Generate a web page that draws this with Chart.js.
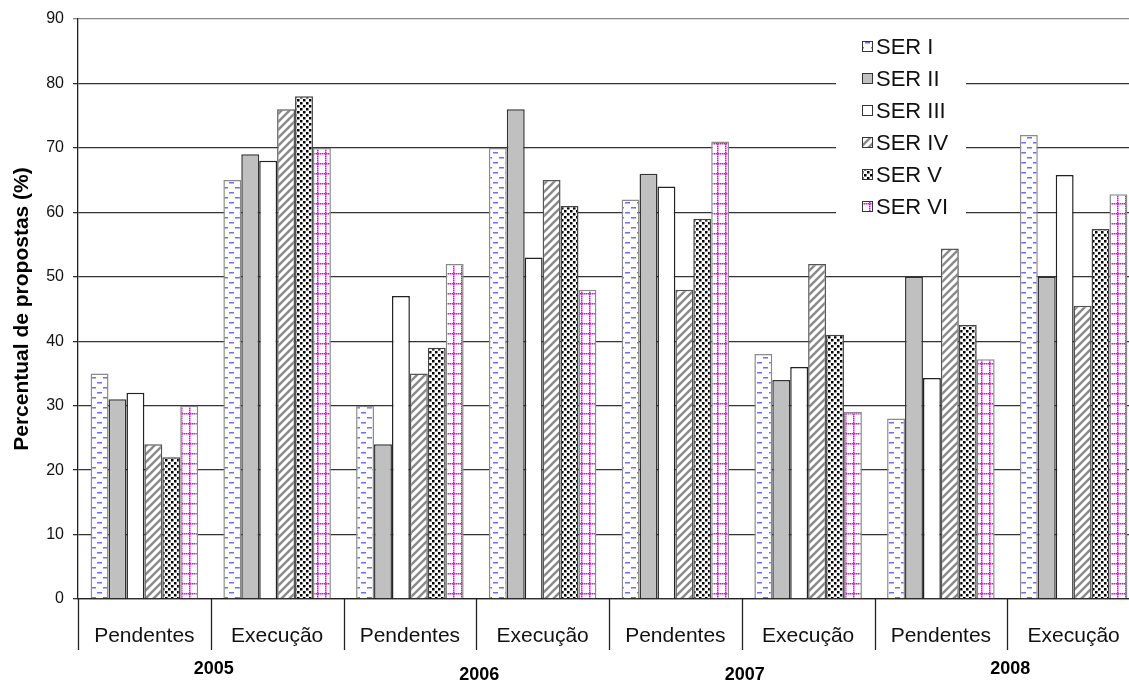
<!DOCTYPE html>
<html>
<head>
<meta charset="utf-8">
<script src="https://cdn.jsdelivr.net/npm/chart.js@4/dist/chart.umd.min.js"></script>
<style>
  html, body { margin: 0; padding: 0; background: #fff; overflow: hidden; }
  #wrap { width: 1140px; height: 681px; }
</style>
</head>
<body>
<div id="wrap"><canvas id="myChart"></canvas></div>
<script>
// data
const categories = ['Pendentes', 'Execução', 'Pendentes', 'Execução', 'Pendentes', 'Execução', 'Pendentes', 'Execução'];
const years = ['2005', '2006', '2007', '2008'];
const seriesNames = ['SER I', 'SER II', 'SER III', 'SER IV', 'SER V', 'SER VI'];
const serI   = [35, 65, 30, 70, 62, 38, 28, 72];
const serII  = [31, 69, 24, 76, 66, 34, 50, 50];
const serIII = [32, 68, 47, 53, 64, 36, 34.3, 65.8];
const serIV  = [24, 76, 35, 65, 48, 52, 54.4, 45.5];
const serV   = [22, 78, 39, 61, 59, 41, 42.5, 57.4];
const serVI  = [30, 70, 52, 48, 71, 29, 37.2, 62.8];
const yTicks = [0, 10, 20, 30, 40, 50, 60, 70, 80, 90];

const FONT = '"Liberation Sans", Arial, sans-serif';

// fill patterns
function makePattern(w, h, draw) {
  const c = document.createElement('canvas');
  c.width = w; c.height = h;
  const g = c.getContext('2d');
  g.fillStyle = '#fff';
  g.fillRect(0, 0, w, h);
  draw(g);
  return g.createPattern(c, 'repeat');
}
const pDash = makePattern(12, 10, g => {
  g.fillStyle = '#6f6ff0';
  g.fillRect(1, 2, 5, 1.5);
  g.fillRect(7, 7, 5, 1.5);
});
const pStripe = makePattern(8, 8, g => {
  g.strokeStyle = '#8a8a8a';
  g.lineWidth = 2.4;
  g.beginPath();
  g.moveTo(-2, 10); g.lineTo(10, -2);
  g.moveTo(-6, 6); g.lineTo(6, -6);
  g.moveTo(2, 14); g.lineTo(14, 2);
  g.stroke();
});
const pDots = makePattern(6, 6, g => {
  g.fillStyle = '#000';
  g.fillRect(0, 0, 2.5, 2.5);
  g.fillRect(3, 3, 2.5, 2.5);
});
const pGrid = makePattern(8, 10, g => {
  g.fillStyle = '#c020c0';
  for (let y = 0; y < 10; y += 2) g.fillRect(5, y, 1.5, 1.5);
  for (let x = 0; x < 8; x += 2) g.fillRect(x, 3, 1.5, 1.5);
});

const fills = [pDash, '#c0c0c0', '#ffffff', pStripe, pDots, pGrid];
const borders = ['#8a8a8a', '#333', '#222', '#555', '#444', '#8a8a8a'];
const values = [serI, serII, serIII, serIV, serV, serVI];

const datasets = seriesNames.map((name, i) => ({
  label: name,
  data: values[i],
  backgroundColor: fills[i],
  borderColor: borders[i],
  borderWidth: 1.5,
  barPercentage: 1,
  categoryPercentage: 0.81
}));

// legend box drawn inside the plot, over the grid
const boxLegend = {
  id: 'boxLegend',
  afterDatasetsDraw(chart) {
    const c = chart.ctx;
    c.save();
    c.fillStyle = '#fff';
    c.fillRect(836, 30, 130, 190);
    c.font = '22px ' + FONT;
    c.textBaseline = 'middle';
    chart.data.datasets.forEach((ds, i) => {
      const y = 47 + i * 32;
      c.fillStyle = ds.backgroundColor;
      c.fillRect(862, y - 6, 11, 11);
      c.strokeStyle = '#333';
      c.lineWidth = 1;
      c.strokeRect(862.5, y - 5.5, 10, 10);
      c.fillStyle = '#111';
      c.fillText(ds.label, 876, y + 1);
    });
    c.restore();
  }
};

// group dividers and year labels under the axis
const yearAxis = {
  id: 'yearAxis',
  afterDraw(chart) {
    const c = chart.ctx;
    const xs = chart.scales.x;
    const bottom = chart.chartArea.bottom;
    const half = (xs.getPixelForValue(1) - xs.getPixelForValue(0)) / 2;
    c.save();
    c.strokeStyle = '#222';
    c.lineWidth = 1.3;
    for (let i = 0; i < categories.length; i++) {
      const x = Math.round(xs.getPixelForValue(i) - half) + 0.5;
      c.beginPath();
      c.moveTo(x, bottom);
      c.lineTo(x, bottom + 51);
      c.stroke();
    }
    c.fillStyle = '#000';
    c.font = 'bold 18px ' + FONT;
    c.textAlign = 'center';
    c.textBaseline = 'middle';
    const dy = [70, 76, 76, 70];
    years.forEach((yr, j) => {
      const x = xs.getPixelForValue(j * 2) + half + 3;
      c.fillText(yr, x, bottom + dy[j]);
    });
    c.restore();
  }
};

const ctx = document.getElementById('myChart');
new Chart(ctx, {
  type: 'bar',
  data: { labels: categories, datasets: datasets },
  options: {
    responsive: true,
    maintainAspectRatio: false,
    animation: false,
    layout: { padding: { top: 19, left: 0, right: 0, bottom: 0 } },
    plugins: {
      legend: { display: false },
      tooltip: { enabled: false }
    },
    scales: {
      x: {
        grid: { display: false },
        border: { display: true, color: '#222', width: 1.3 },
        ticks: {
          padding: 17,
          color: '#111',
          font: { size: 21, family: FONT }
        },
        afterFit(scale) { scale.height = 82; }
      },
      y: {
        min: 0,
        max: 90,
        afterBuildTicks(scale) { scale.ticks = yTicks.map(v => ({ value: v })); },
        grid: {
          color: ctx2 => ctx2.tick && ctx2.tick.value === 90 ? '#888' : '#333',
          lineWidth: 1.3,
          tickLength: 5
        },
        border: { display: true, color: '#222', width: 1.3 },
        ticks: {
          padding: 9,
          color: '#111',
          font: { size: 16, family: FONT }
        },
        title: {
          display: true,
          text: 'Percentual de propostas (%)',
          color: '#000',
          padding: { top: 10, bottom: 0 },
          font: { size: 21, weight: 'bold', family: FONT }
        },
        afterFit(scale) { scale.width = 78; }
      }
    }
  },
  plugins: [boxLegend, yearAxis]
});
</script>
</body>
</html>
